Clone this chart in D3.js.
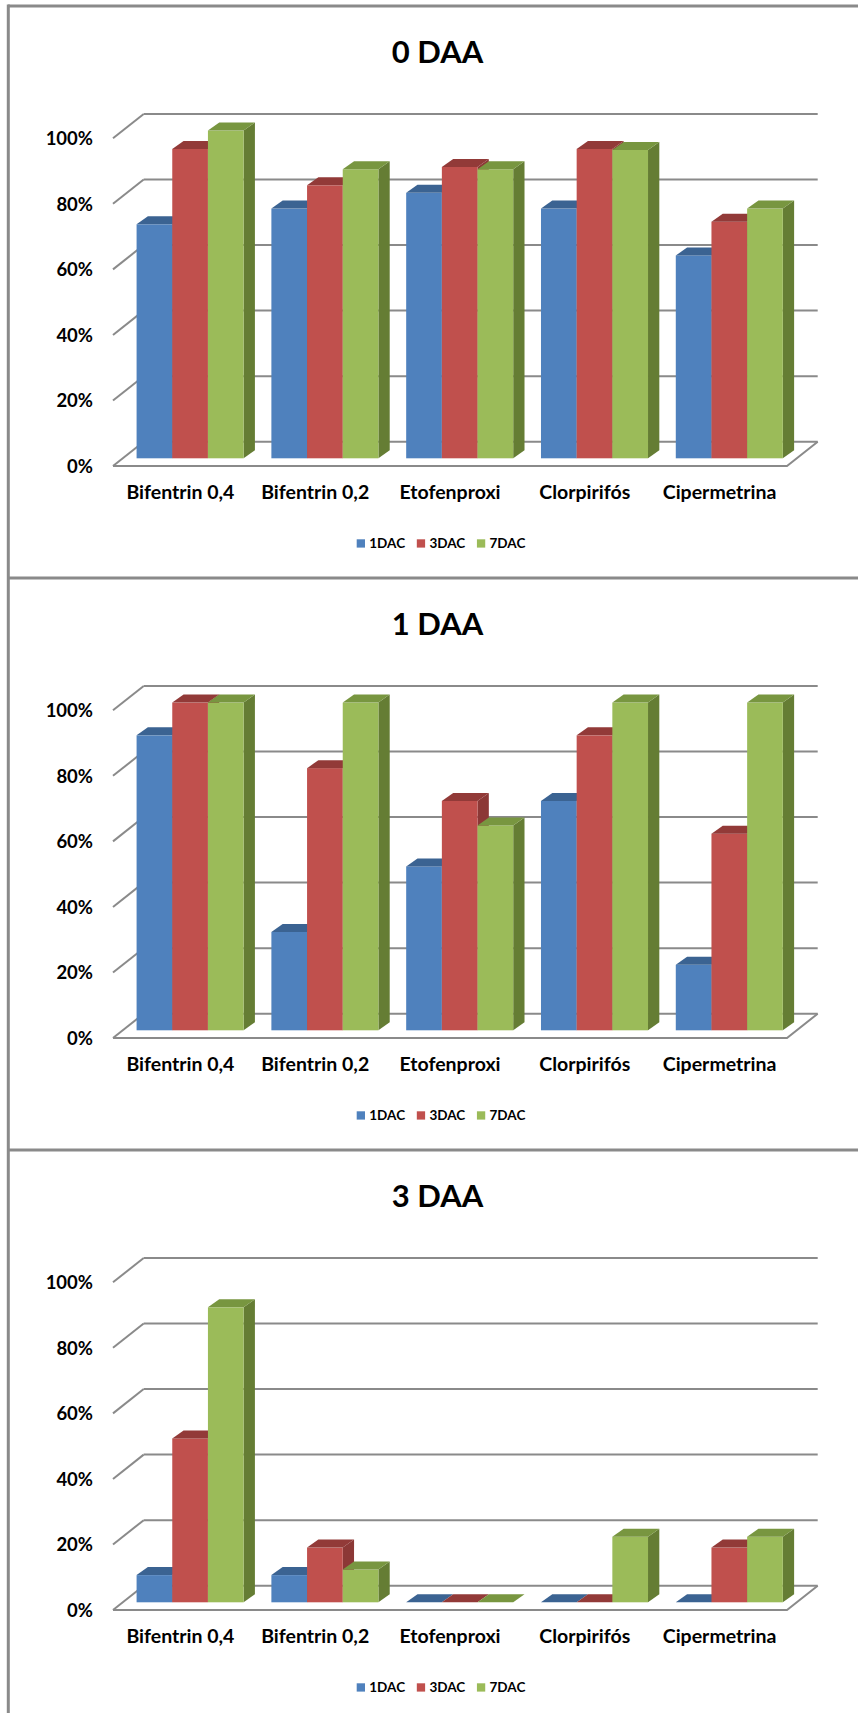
<!DOCTYPE html>
<html>
<head>
<meta charset="utf-8">
<script src="https://cdnjs.cloudflare.com/ajax/libs/d3/7.8.5/d3.min.js"></script>
<style>
  html, body { margin: 0; padding: 0; background: #ffffff; }
  svg { display: block; }
  text { font-family: Lato, "Open Sans", "DejaVu Sans", sans-serif; font-weight: 700; fill: #000; }
</style>
</head>
<body>
<div id="chart"></div>
<script>
// Mortality (%) of each insecticide treatment, read 1, 3 and 7 days after contact (DAC),
// for residues aged 0, 1 and 3 days after application (DAA).
const categories = ["Bifentrin 0,4", "Bifentrin 0,2", "Etofenproxi", "Clorpirifós", "Cipermetrina"];
const seriesNames = ["1DAC", "3DAC", "7DAC"];
const panelTitles = ["0 DAA", "1 DAA", "3 DAA"];
const yTicks = [0, 20, 40, 60, 80, 100];
const yTickLabels = ["0%", "20%", "40%", "60%", "80%", "100%"];

const daa0_1DAC = [71.4, 76.2, 81.0, 76.2, 61.9];
const daa0_3DAC = [94.4, 83.3, 88.9, 94.4, 72.2];
const daa0_7DAC = [100, 88.2, 88.2, 94.1, 76.2];

const daa1_1DAC = [90, 30, 50, 70, 20];
const daa1_3DAC = [100, 80, 70, 90, 60];
const daa1_7DAC = [100, 100, 62.5, 100, 100];

const daa3_1DAC = [8.3, 8.3, 0, 0, 0];
const daa3_3DAC = [50, 16.7, 0, 0, 16.7];
const daa3_7DAC = [90, 10, 0, 20, 20];

const panelValues = [
  [daa0_1DAC, daa0_3DAC, daa0_7DAC],
  [daa1_1DAC, daa1_3DAC, daa1_7DAC],
  [daa3_1DAC, daa3_3DAC, daa3_7DAC]
];

// Face colours: front, top, side for each series
const palette = {
  "1DAC": { front: "#4F81BD", top: "#3B6392", side: "#385D8A" },
  "3DAC": { front: "#C0504D", top: "#923A38", side: "#8C3836" },
  "7DAC": { front: "#9BBB59", top: "#789640", side: "#657D34" }
};

const W = 858, H = 1713;
const panelStep = 572;
const frontLeft = 113, frontRight = 787, floorY = 466;
const wallDepth = { x: 30.7, y: -24.3 };   // projection of the floor depth
const barShift = { x: 9.7, y: -7.7 };      // bars sit in the middle of the floor
const barDepth = { x: 11.3, y: -8 };
const gridColor = "#8a8a8a";
const borderColor = "#8a8a8a";

const svg = d3.select("#chart").append("svg")
  .attr("width", W).attr("height", H)
  .attr("viewBox", `0 0 ${W} ${H}`);

svg.append("rect").attr("width", W).attr("height", H).attr("fill", "#fff");

const x = d3.scaleBand().domain(categories).range([frontLeft, frontRight])
  .paddingInner(0.206).paddingOuter(0.103);
const xs = d3.scaleBand().domain(seriesNames).range([0, x.bandwidth()]);
const h = d3.scaleLinear().domain([0, 100]).range([0, 327.7]);

panelTitles.forEach((title, p) => {
  const oy = p * panelStep;
  const g = svg.append("g").attr("class", "panel");
  const yFront = v => oy + floorY - h(v);
  const xBackL = frontLeft + wallDepth.x, xBackR = frontRight + wallDepth.x;

  // Title
  g.append("text")
    .attr("x", 437.5).attr("y", oy + 62.5)
    .attr("text-anchor", "middle")
    .style("font-size", "31px")
    .text(title);

  // Back wall gridlines and the left wall diagonals
  const grid = g.append("g").attr("stroke", gridColor).attr("stroke-width", 2).attr("fill", "none");
  yTicks.forEach(v => {
    grid.append("line")
      .attr("x1", xBackL).attr("x2", xBackR)
      .attr("y1", yFront(v) + wallDepth.y).attr("y2", yFront(v) + wallDepth.y);
    grid.append("line")
      .attr("x1", frontLeft).attr("y1", yFront(v))
      .attr("x2", xBackL).attr("y2", yFront(v) + wallDepth.y);
  });
  // Floor front edge and right edge
  grid.append("polyline")
    .attr("points", [
      [frontLeft, yFront(0)],
      [frontRight, yFront(0)],
      [xBackR, yFront(0) + wallDepth.y]
    ].map(d => d.join(",")).join(" "));

  // Y tick labels
  g.selectAll("text.ytick").data(yTicks).join("text")
    .attr("class", "ytick")
    .attr("x", 93).attr("y", v => yFront(v))
    .attr("dy", "0.36em")
    .attr("text-anchor", "end")
    .style("font-size", "18.5px")
    .text((v, i) => yTickLabels[i]);

  // Bars, drawn left to right so each bar hides the side of its neighbour
  const vals = panelValues[p];
  const barsG = g.append("g");
  categories.forEach((cat, ci) => {
    seriesNames.forEach((s, si) => {
      const v = vals[si][ci];
      const x0 = x(cat) + xs(s) + barShift.x;
      const w = xs.bandwidth();
      const yb = oy + floorY + barShift.y;
      const yt = yb - h(v);
      const c = palette[s];
      const bar = barsG.append("g");
      bar.append("polygon")
        .attr("points", [[x0 + w, yt], [x0 + w, yb], [x0 + w + barDepth.x, yb + barDepth.y], [x0 + w + barDepth.x, yt + barDepth.y]]
          .map(d => d.join(",")).join(" "))
        .attr("fill", c.side);
      bar.append("rect")
        .attr("x", x0).attr("y", yt).attr("width", w).attr("height", h(v))
        .attr("fill", c.front);
      bar.append("polygon")
        .attr("points", [[x0, yt], [x0 + w, yt], [x0 + w + barDepth.x, yt + barDepth.y], [x0 + barDepth.x, yt + barDepth.y]]
          .map(d => d.join(",")).join(" "))
        .attr("fill", c.top);
    });
  });

  // Category labels
  g.selectAll("text.xcat").data(categories).join("text")
    .attr("class", "xcat")
    .attr("x", d => x(d) + x.bandwidth() / 2)
    .attr("y", oy + 498.5)
    .attr("text-anchor", "middle")
    .style("font-size", "19.5px")
    .text(d => d);

  // Legend
  const leg = g.append("g").attr("transform", `translate(356.7, ${oy + 543.3})`);
  let lx = 0;
  seriesNames.forEach(s => {
    leg.append("rect").attr("x", lx).attr("y", -4).attr("width", 8.3).attr("height", 8.3)
      .attr("fill", palette[s].front);
    const t = leg.append("text").attr("x", lx + 12.6).attr("y", 0).attr("dy", "0.36em")
      .style("font-size", "13.5px").text(s);
    lx += 12.6 + t.node().getComputedTextLength() + 11.7;
  });

  // Panel separator line
  svg.append("line")
    .attr("x1", 8).attr("x2", W)
    .attr("y1", oy + 6).attr("y2", oy + 6)
    .attr("stroke", borderColor).attr("stroke-width", 3);
});

// Left border of the frame
svg.append("line")
  .attr("x1", 8.3).attr("x2", 8.3)
  .attr("y1", 4.5).attr("y2", H)
  .attr("stroke", borderColor).attr("stroke-width", 3);
</script>
</body>
</html>
